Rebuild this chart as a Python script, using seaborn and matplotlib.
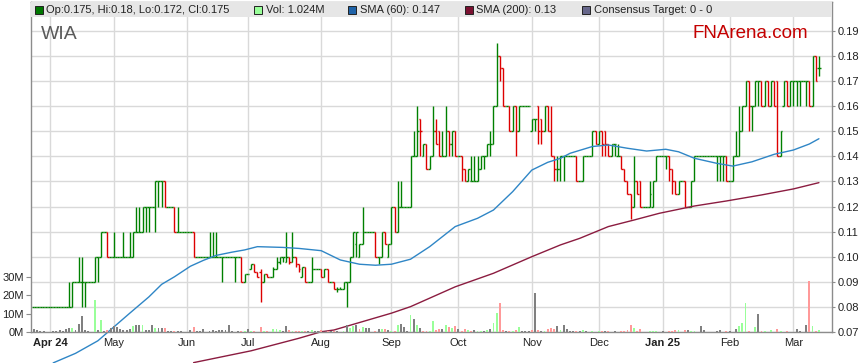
import numpy as np
import pandas as pd
import matplotlib
matplotlib.use("Agg")
from matplotlib import pyplot as plt
from matplotlib.patches import Rectangle
import seaborn as sns

# daily bars, prices in tenths of a cent (80 -> 0.080), Mar 22 2024 .. Mar 13 2025
opens = [
    80, 80, 80, 80, 80, 80, 80, 80, 80, 80,
    80, 80, 80, 90, 90, 90, 90, 90, 90, 90,
    100, 100, 110, 110, 100, 100, 100, 100, 100, 100,
    100, 100, 110, 110, 110, 120, 120, 120, 120, 130,
    130, 130, 120, 120, 120, 110, 110, 110, 110, 110,
    110, 100, 100, 100, 100, 100, 100, 100, 100, 100,
    100, 100, 100, 100, 100, 100, 90, 93, 95, 97,
    94, 94, 90, 93, 92, 92, 95, 98, 100, 98,
    100, 98, 100, 97, 92, 96, 90, 90, 95, 95,
    95, 92, 95, 90, 90, 87, 87, 87, 90, 90,
    100, 105, 100, 105, 110, 110, 110, 110, 100, 100,
    110, 100, 105, 120, 110, 120, 120, 120, 120, 140,
    140, 155, 140, 145, 135, 140, 150, 150, 140, 140,
    150, 145, 150, 140, 140, 135, 130, 130, 130, 130,
    135, 140, 140, 145, 145, 160, 180, 175, 160, 160,
    150, 160, 150, 160, 160, 160, 150, 155, 160, 155,
    150, 160, 150, 140, 135, 135, 140, 140, 140, 140,
    140, 130, 130, 140, 140, 140, 150, 145, 150, 150,
    145, 140, 145, 140, 140, 135, 130, 125, 120, 130,
    130, 120, 120, 120, 120, 130, 140, 140, 140, 140,
    135, 130, 125, 130, 130, 120, 120, 130, 140, 140,
    140, 140, 140, 140, 140, 140, 140, 140, 130, 130,
    140, 140, 150, 160, 170, 160, 160, 170, 170, 160,
    170, 160, 170, 170, 140, 160, 170, 160, 170, 170,
    170, 170, 170, 170, 160, 180, 175,
]
highs = [
    80, 80, 80, 80, 80, 80, 80, 80, 80, 80,
    80, 90, 90, 90, 100, 100, 90, 90, 90, 100,
    100, 110, 110, 110, 100, 110, 100, 100, 110, 100,
    110, 110, 120, 120, 120, 120, 120, 120, 130, 130,
    130, 130, 120, 120, 120, 120, 110, 110, 110, 110,
    110, 100, 100, 100, 100, 110, 110, 110, 100, 100,
    100, 100, 100, 100, 100, 100, 93, 93, 97, 97,
    94, 95, 93, 93, 92, 96, 100, 100, 100, 110,
    100, 110, 100, 97, 96, 96, 90, 100, 95, 95,
    95, 95, 95, 90, 90, 88, 88, 90, 90, 100,
    110, 110, 105, 120, 110, 110, 110, 110, 100, 110,
    110, 105, 120, 120, 130, 130, 120, 120, 140, 150,
    160, 155, 145, 145, 140, 160, 155, 150, 150, 160,
    150, 150, 150, 140, 140, 135, 135, 140, 140, 140,
    140, 140, 145, 150, 160, 185, 180, 175, 160, 160,
    160, 160, 160, 160, 160, 160, 155, 155, 160, 155,
    160, 160, 160, 140, 140, 140, 140, 140, 140, 140,
    140, 130, 140, 140, 140, 150, 150, 150, 150, 150,
    145, 145, 145, 145, 140, 135, 130, 125, 140, 130,
    130, 120, 120, 130, 130, 140, 140, 140, 140, 140,
    135, 130, 130, 130, 130, 120, 130, 140, 140, 140,
    140, 140, 140, 140, 140, 140, 140, 140, 130, 140,
    150, 160, 160, 170, 170, 160, 170, 170, 170, 170,
    170, 170, 170, 170, 150, 170, 170, 170, 170, 170,
    170, 170, 170, 170, 180, 180, 180,
]
lows = [
    80, 80, 80, 80, 80, 80, 80, 80, 80, 80,
    80, 80, 80, 90, 90, 80, 80, 90, 90, 90,
    90, 100, 110, 100, 100, 100, 100, 100, 100, 100,
    100, 100, 110, 110, 110, 110, 110, 120, 110, 120,
    120, 120, 120, 120, 110, 110, 110, 110, 110, 110,
    100, 100, 100, 100, 100, 100, 100, 100, 100, 90,
    100, 100, 100, 90, 100, 90, 90, 93, 95, 94,
    92, 82, 90, 92, 92, 92, 95, 97, 98, 98,
    97, 98, 96, 94, 92, 90, 90, 90, 95, 95,
    92, 92, 90, 90, 87, 86, 87, 87, 80, 90,
    100, 100, 100, 105, 110, 110, 110, 100, 97, 100,
    105, 100, 105, 110, 110, 120, 120, 120, 120, 140,
    140, 140, 140, 135, 135, 140, 145, 140, 140, 140,
    140, 140, 140, 140, 130, 130, 130, 130, 130, 130,
    135, 135, 140, 140, 145, 160, 170, 160, 160, 150,
    150, 140, 150, 160, 160, 160, 150, 150, 145, 145,
    150, 150, 140, 130, 130, 130, 130, 140, 140, 140,
    130, 130, 130, 140, 140, 140, 145, 145, 140, 140,
    140, 140, 140, 140, 135, 130, 125, 115, 120, 125,
    120, 120, 120, 120, 120, 130, 140, 140, 135, 130,
    125, 125, 125, 130, 120, 120, 120, 130, 140, 140,
    140, 140, 140, 140, 130, 130, 130, 130, 130, 130,
    140, 140, 150, 160, 150, 150, 160, 160, 160, 160,
    160, 160, 160, 140, 140, 160, 160, 160, 160, 160,
    160, 170, 160, 160, 160, 170, 172,
]
closes = [
    80, 80, 80, 80, 80, 80, 80, 80, 80, 80,
    80, 80, 90, 90, 90, 90, 90, 90, 90, 100,
    100, 110, 110, 100, 100, 100, 100, 100, 100, 100,
    100, 110, 110, 110, 120, 120, 120, 120, 130, 130,
    130, 120, 120, 120, 110, 110, 110, 110, 110, 110,
    100, 100, 100, 100, 100, 100, 100, 100, 100, 100,
    100, 100, 100, 100, 100, 90, 93, 93, 97, 94,
    92, 90, 93, 92, 92, 95, 98, 100, 100, 100,
    98, 100, 97, 95, 96, 90, 90, 95, 95, 95,
    92, 95, 90, 90, 87, 87, 87, 90, 90, 100,
    110, 110, 105, 110, 110, 110, 110, 100, 100, 110,
    105, 105, 120, 110, 120, 120, 120, 120, 140, 140,
    150, 150, 145, 135, 140, 150, 145, 140, 140, 150,
    145, 150, 140, 140, 135, 130, 135, 130, 130, 135,
    140, 140, 145, 145, 160, 180, 175, 160, 160, 150,
    160, 150, 160, 160, 160, 160, 155, 155, 150, 150,
    160, 150, 140, 135, 135, 140, 140, 140, 140, 140,
    130, 130, 140, 140, 140, 150, 145, 150, 145, 145,
    140, 145, 145, 140, 135, 130, 125, 120, 130, 125,
    120, 120, 120, 125, 130, 140, 140, 140, 140, 135,
    130, 125, 130, 130, 120, 120, 130, 140, 140, 140,
    140, 140, 140, 140, 140, 140, 140, 130, 130, 140,
    140, 150, 160, 170, 160, 160, 170, 170, 160, 170,
    160, 170, 160, 140, 150, 170, 160, 170, 170, 170,
    170, 170, 170, 160, 180, 170, 175,
]
# daily volume in millions of shares
volume_m = [
    1.8, 1.0, 0.8, 0.6, 0.0, 0.0, 0.3, 0.8, 1.2, 0.4,
    1.8, 2.0, 2.2, 1.0, 4.5, 8.5, 1.0, 0.3, 0.2, 17.5,
    1.0, 6.5, 0.5, 1.0, 2.0, 3.5, 2.5, 1.8, 1.0, 1.0,
    1.5, 3.5, 4.0, 3.6, 4.0, 1.2, 1.0, 3.6, 2.0, 2.3,
    2.0, 2.2, 0.3, 0.3, 0.3, 0.8, 0.5, 0.2, 0.2, 1.2,
    2.5, 0.3, 0.5, 1.6, 0.2, 0.3, 1.2, 0.8, 0.9, 0.9,
    0.9, 4.0, 0.5, 0.2, 0.3, 0.6, 0.3, 1.8, 0.3, 0.6,
    0.2, 2.5, 0.6, 0.4, 0.2, 1.8, 1.8, 1.0, 0.3, 3.5,
    1.0, 0.5, 0.3, 0.5, 0.4, 0.7, 0.5, 1.2, 0.3, 0.3,
    1.2, 0.2, 0.5, 0.6, 0.3, 0.5, 0.2, 0.3, 4.0, 2.2,
    3.5, 4.0, 1.5, 2.5, 2.0, 2.0, 0.2, 0.5, 1.8, 1.6,
    1.5, 1.0, 0.3, 0.8, 3.6, 4.5, 2.5, 0.5, 9.5, 7.3,
    4.0, 2.0, 0.8, 0.6, 0.3, 6.0, 1.2, 1.4, 1.6, 4.0,
    2.5, 2.2, 3.3, 1.8, 0.7, 1.6, 1.2, 0.8, 1.0, 0.8,
    0.8, 0.6, 1.2, 1.6, 5.0, 10.4, 15.5, 1.2, 0.7, 0.5,
    0.7, 1.2, 2.5, 0.8, 0.3, 0.3, 1.2, 21.0, 1.2, 0.7,
    0.7, 1.6, 2.0, 1.8, 3.5, 1.2, 4.0, 1.5, 0.8, 0.8,
    0.6, 0.3, 1.0, 0.6, 0.2, 0.3, 0.2, 0.3, 0.5, 0.3,
    0.5, 0.2, 0.5, 0.2, 0.5, 0.6, 1.2, 3.8, 2.2, 0.3,
    1.6, 0.2, 0.2, 0.5, 0.5, 0.5, 0.2, 0.5, 0.2, 0.5,
    0.5, 1.0, 1.0, 0.2, 1.3, 1.0, 0.5, 0.7, 0.2, 3.3,
    1.0, 0.2, 0.2, 0.2, 0.7, 1.0, 0.2, 0.5, 0.7, 0.2,
    1.8, 3.5, 5.0, 15.6, 0.5, 0.2, 2.5, 9.8, 0.5, 0.5,
    0.2, 1.0, 0.2, 1.6, 0.5, 0.2, 0.5, 0.2, 0.2, 1.4,
    0.6, 0.2, 3.6, 27.8, 3.3, 0.3, 1.024,
]

# moving averages (bar index, price)
sma60_days = [6, 13, 20, 30, 36, 40, 44, 49, 53, 57, 62, 66, 70, 78, 83, 90, 96, 102, 107,
              112, 118, 124, 132, 139, 144, 150, 156, 161, 165, 168, 175, 180, 186, 192,
              198, 202, 207, 214, 219, 225, 232, 238, 243, 246]
sma60 = [0.0577, 0.0615, 0.0665, 0.0775, 0.0840, 0.0890, 0.0920, 0.0962, 0.0985, 0.1005,
         0.1018, 0.1027, 0.1040, 0.1037, 0.1033, 0.1024, 0.0987, 0.0970, 0.0966,
         0.0970, 0.0990, 0.1040, 0.1120, 0.1153, 0.1186, 0.1259, 0.1345, 0.1376, 0.1392,
         0.1412, 0.1439, 0.1445, 0.1432, 0.1421, 0.1428, 0.1418, 0.1392, 0.1372, 0.1361,
         0.1378, 0.1408, 0.1425, 0.1449, 0.1470]
sma200_days = [50, 68, 83, 90, 94, 112, 118, 132, 144, 156, 165, 171, 180, 188, 196, 207,
               217, 228, 238, 246]
sma200 = [0.0578, 0.0625, 0.0675, 0.0701, 0.0708, 0.0775, 0.0801, 0.0880, 0.0934, 0.1000,
          0.1047, 0.1073, 0.1120, 0.1146, 0.1173, 0.1202, 0.1222, 0.1246, 0.1270, 0.1295]

asx_holidays = ["2024-03-29", "2024-04-01", "2024-04-25", "2024-06-10",
                "2024-12-25", "2024-12-26", "2025-01-01", "2025-01-27"]
month_labels = ["Apr 24", "May", "Jun", "Jul", "Aug", "Sep", "Oct", "Nov", "Dec",
                "Jan 25", "Feb", "Mar"]
price_ticks = [0.07, 0.08, 0.09, 0.10, 0.11, 0.12, 0.13, 0.14, 0.15, 0.16, 0.17, 0.18, 0.19]
volume_ticks = [0, 10, 20, 30]

legend_items = [
    ("Op:0.175, Hi:0.18, Lo:0.172, Cl:0.175", "#007700", 35),
    ("Vol: 1.024M", "#99ff99", 254),
    ("SMA (60): 0.147", "#1f63a8", 348),
    ("SMA (200): 0.13", "#7a1030", 465),
    ("Consensus Target: 0 - 0", "#66668a", 582),
]

sns.set_style("white")
plt.rcParams['font.family'] = ['Liberation Sans', 'DejaVu Sans']

dates = pd.bdate_range("2024-03-22", "2025-03-13", freq="C", holidays=asx_holidays)
n = len(closes)
x = np.arange(n)
o = np.array(opens) / 1000
h = np.array(highs) / 1000
l = np.array(lows) / 1000
c = np.array(closes) / 1000

idx = pd.Series(np.arange(len(dates)), index=dates)
month_pos = idx.groupby(dates.to_period("M")).first().values[1:]

W, H = 859, 363
fig = plt.figure(figsize=(W / 100, H / 100), dpi=100)
ax = fig.add_axes([31 / W, 31 / H, 801 / W, 330 / H])
axv = ax.twinx()

grid_col = "#d9d9d9"
frame_col = "#8c8c8c"

# price bars
bar_col = np.where(c >= o, "#008000", "#dd0000")
ax.vlines(x, l, h, colors=bar_col, lw=1.0)
ax.hlines(o, x - 0.5, x, colors=bar_col, lw=1.0)
ax.hlines(c, x, x + 0.5, colors=bar_col, lw=1.0)

# moving averages (drawn past the bottom of the frame like the original)
sns.lineplot(x=sma60_days, y=sma60, ax=ax, color="#2f86c6", lw=1.0, legend=False)
sns.lineplot(x=sma200_days, y=sma200, ax=ax, color="#8b1c40", lw=1.0, legend=False)
for ln in ax.lines:
    ln.set_clip_on(False)

ax.set_xlim(-0.96, 250.1)
ax.set_ylim(0.07, 0.07 + 330 / 2510)
ax.set_yticks(price_ticks)
ax.set_yticklabels([f"{t:.2f}" for t in price_ticks])
ax.set_xticks(month_pos)
ax.set_xticklabels(month_labels)
for lab in ax.get_xticklabels():
    if " " in lab.get_text():
        lab.set_fontweight("bold")
ax.grid(True, color=grid_col, lw=1.0)
ax.set_axisbelow(True)
ax.yaxis.tick_right()
ax.tick_params(axis="y", length=2.5, width=0.8, color=frame_col, labelsize=8,
               pad=1.5, labelcolor="#222222")
ax.tick_params(axis="x", length=3, width=0.8, color=frame_col, labelsize=8,
               pad=1.5, labelcolor="#222222")
for sp in ax.spines.values():
    sp.set_color(frame_col)
    sp.set_linewidth(1.0)
ax.set_xlabel("")
ax.set_ylabel("")

# volume
prev = np.r_[c[0], c[:-1]]
vol_col = np.where(c > prev, "#99ff99", np.where(c < prev, "#ff9999", "#808080"))
axv.bar(x, volume_m, width=0.6, color=vol_col, linewidth=0)
axv.set_ylim(0, 330 / 18.4 * 10)
axv.yaxis.tick_left()
axv.set_yticks(volume_ticks)
axv.set_yticklabels([f"{t}M" for t in volume_ticks])
axv.tick_params(axis="y", length=3.5, width=0.8, color=frame_col, labelsize=8,
                pad=1.5, labelcolor="#222222")
for sp in axv.spines.values():
    sp.set_visible(False)

# legend band across the top of the frame
axv.add_patch(Rectangle((0, 1 - 15 / 330), 1, 15 / 330, transform=axv.transAxes,
                        facecolor="#e6e6e6", edgecolor="none", zorder=5))

def fx(px):
    return px / W

def fy(py):
    return 1 - py / H

for label, col, x0 in legend_items:
    fig.add_artist(Rectangle((fx(x0), fy(14)), 7.5 / W, 7.5 / H, transform=fig.transFigure,
                             facecolor=col, edgecolor="#222222", lw=0.7))
    fig.text(fx(x0 + 11.5), fy(10.3), label, fontsize=8, color="#222222", va="center")

fig.text(fx(41), fy(39), "WIA", fontsize=14, color="#5a5a5a", va="baseline")
fig.text(fx(692), fy(37.5), "FNArena.com", fontsize=13.5, color="#c40000", va="baseline")

plt.savefig("out.png", dpi=100)
